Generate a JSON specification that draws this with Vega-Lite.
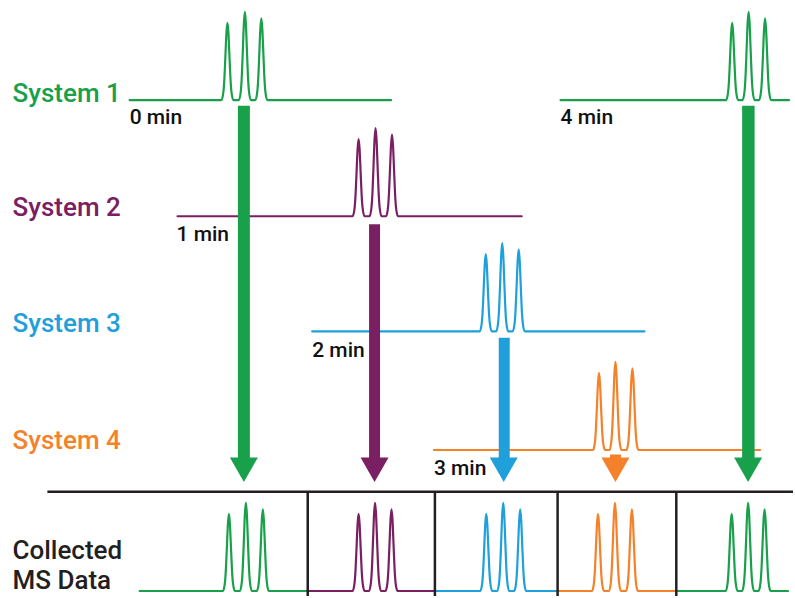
{
  "$schema": "https://vega.github.io/schema/vega-lite/v6.json",
  "width": 795,
  "height": 598,
  "padding": 0,
  "autosize": {"type": "fit", "contains": "padding"},
  "background": "white",
  "config": {"view": {"stroke": null}},
  "datasets": {
    "traces": [
      {"trace":"S1a","system":"System 1","x":130,"y":100.5},
      {"trace":"S1a","system":"System 1","x":222,"y":100.5},{"trace":"S1a","system":"System 1","x":224,"y":92},{"trace":"S1a","system":"System 1","x":225,"y":78},{"trace":"S1a","system":"System 1","x":226,"y":55.5},{"trace":"S1a","system":"System 1","x":227,"y":33.1},{"trace":"S1a","system":"System 1","x":228,"y":23},{"trace":"S1a","system":"System 1","x":229,"y":33.1},{"trace":"S1a","system":"System 1","x":230,"y":55.5},{"trace":"S1a","system":"System 1","x":231,"y":78},{"trace":"S1a","system":"System 1","x":232,"y":92},{"trace":"S1a","system":"System 1","x":234,"y":100.5},
      {"trace":"S1a","system":"System 1","x":239.5,"y":100.5},{"trace":"S1a","system":"System 1","x":241.5,"y":90.8},{"trace":"S1a","system":"System 1","x":242.5,"y":74.8},{"trace":"S1a","system":"System 1","x":243.5,"y":49.2},{"trace":"S1a","system":"System 1","x":244.5,"y":23.5},{"trace":"S1a","system":"System 1","x":245.5,"y":12},{"trace":"S1a","system":"System 1","x":246.5,"y":23.5},{"trace":"S1a","system":"System 1","x":247.5,"y":49.2},{"trace":"S1a","system":"System 1","x":248.5,"y":74.8},{"trace":"S1a","system":"System 1","x":249.5,"y":90.8},{"trace":"S1a","system":"System 1","x":251.5,"y":100.5},
      {"trace":"S1a","system":"System 1","x":256,"y":100.5},{"trace":"S1a","system":"System 1","x":258,"y":91.5},{"trace":"S1a","system":"System 1","x":259,"y":76.7},{"trace":"S1a","system":"System 1","x":260,"y":52.9},{"trace":"S1a","system":"System 1","x":261,"y":29.2},{"trace":"S1a","system":"System 1","x":262,"y":18.5},{"trace":"S1a","system":"System 1","x":263,"y":29.2},{"trace":"S1a","system":"System 1","x":264,"y":52.9},{"trace":"S1a","system":"System 1","x":265,"y":76.7},{"trace":"S1a","system":"System 1","x":266,"y":91.5},{"trace":"S1a","system":"System 1","x":268,"y":100.5},
      {"trace":"S1a","system":"System 1","x":392,"y":100.5},

      {"trace":"S1b","system":"System 1","x":562,"y":100.5},
      {"trace":"S1b","system":"System 1","x":728,"y":100.5},{"trace":"S1b","system":"System 1","x":730,"y":92},{"trace":"S1b","system":"System 1","x":731,"y":78},{"trace":"S1b","system":"System 1","x":732,"y":55.5},{"trace":"S1b","system":"System 1","x":733,"y":33.1},{"trace":"S1b","system":"System 1","x":734,"y":23},{"trace":"S1b","system":"System 1","x":735,"y":33.1},{"trace":"S1b","system":"System 1","x":736,"y":55.5},{"trace":"S1b","system":"System 1","x":737,"y":78},{"trace":"S1b","system":"System 1","x":738,"y":92},{"trace":"S1b","system":"System 1","x":740,"y":100.5},
      {"trace":"S1b","system":"System 1","x":744.5,"y":100.5},{"trace":"S1b","system":"System 1","x":746.5,"y":90.8},{"trace":"S1b","system":"System 1","x":747.5,"y":74.8},{"trace":"S1b","system":"System 1","x":748.5,"y":49.2},{"trace":"S1b","system":"System 1","x":749.5,"y":23.5},{"trace":"S1b","system":"System 1","x":750.5,"y":12},{"trace":"S1b","system":"System 1","x":751.5,"y":23.5},{"trace":"S1b","system":"System 1","x":752.5,"y":49.2},{"trace":"S1b","system":"System 1","x":753.5,"y":74.8},{"trace":"S1b","system":"System 1","x":754.5,"y":90.8},{"trace":"S1b","system":"System 1","x":756.5,"y":100.5},
      {"trace":"S1b","system":"System 1","x":761,"y":100.5},{"trace":"S1b","system":"System 1","x":763,"y":91.5},{"trace":"S1b","system":"System 1","x":764,"y":76.7},{"trace":"S1b","system":"System 1","x":765,"y":52.9},{"trace":"S1b","system":"System 1","x":766,"y":29.2},{"trace":"S1b","system":"System 1","x":767,"y":18.5},{"trace":"S1b","system":"System 1","x":768,"y":29.2},{"trace":"S1b","system":"System 1","x":769,"y":52.9},{"trace":"S1b","system":"System 1","x":770,"y":76.7},{"trace":"S1b","system":"System 1","x":771,"y":91.5},{"trace":"S1b","system":"System 1","x":773,"y":100.5},
      {"trace":"S1b","system":"System 1","x":791,"y":100.5},

      {"trace":"S2","system":"System 2","x":178,"y":217},
      {"trace":"S2","system":"System 2","x":353.5,"y":217},{"trace":"S2","system":"System 2","x":355.5,"y":208.5},{"trace":"S2","system":"System 2","x":356.5,"y":194.5},{"trace":"S2","system":"System 2","x":357.5,"y":172},{"trace":"S2","system":"System 2","x":358.5,"y":149.6},{"trace":"S2","system":"System 2","x":359.5,"y":139.5},{"trace":"S2","system":"System 2","x":360.5,"y":149.6},{"trace":"S2","system":"System 2","x":361.5,"y":172},{"trace":"S2","system":"System 2","x":362.5,"y":194.5},{"trace":"S2","system":"System 2","x":363.5,"y":208.5},{"trace":"S2","system":"System 2","x":365.5,"y":217},
      {"trace":"S2","system":"System 2","x":370.5,"y":217},{"trace":"S2","system":"System 2","x":372.5,"y":207.3},{"trace":"S2","system":"System 2","x":373.5,"y":191.3},{"trace":"S2","system":"System 2","x":374.5,"y":165.7},{"trace":"S2","system":"System 2","x":375.5,"y":140},{"trace":"S2","system":"System 2","x":376.5,"y":128.5},{"trace":"S2","system":"System 2","x":377.5,"y":140},{"trace":"S2","system":"System 2","x":378.5,"y":165.7},{"trace":"S2","system":"System 2","x":379.5,"y":191.3},{"trace":"S2","system":"System 2","x":380.5,"y":207.3},{"trace":"S2","system":"System 2","x":382.5,"y":217},
      {"trace":"S2","system":"System 2","x":387,"y":217},{"trace":"S2","system":"System 2","x":389,"y":208},{"trace":"S2","system":"System 2","x":390,"y":193.2},{"trace":"S2","system":"System 2","x":391,"y":169.4},{"trace":"S2","system":"System 2","x":392,"y":145.7},{"trace":"S2","system":"System 2","x":393,"y":135},{"trace":"S2","system":"System 2","x":394,"y":145.7},{"trace":"S2","system":"System 2","x":395,"y":169.4},{"trace":"S2","system":"System 2","x":396,"y":193.2},{"trace":"S2","system":"System 2","x":397,"y":208},{"trace":"S2","system":"System 2","x":399,"y":217},
      {"trace":"S2","system":"System 2","x":523,"y":217},

      {"trace":"S3","system":"System 3","x":313,"y":332.5},
      {"trace":"S3","system":"System 3","x":481,"y":332.5},{"trace":"S3","system":"System 3","x":483,"y":324},{"trace":"S3","system":"System 3","x":484,"y":310},{"trace":"S3","system":"System 3","x":485,"y":287.5},{"trace":"S3","system":"System 3","x":486,"y":265.1},{"trace":"S3","system":"System 3","x":487,"y":255},{"trace":"S3","system":"System 3","x":488,"y":265.1},{"trace":"S3","system":"System 3","x":489,"y":287.5},{"trace":"S3","system":"System 3","x":490,"y":310},{"trace":"S3","system":"System 3","x":491,"y":324},{"trace":"S3","system":"System 3","x":493,"y":332.5},
      {"trace":"S3","system":"System 3","x":497.5,"y":332.5},{"trace":"S3","system":"System 3","x":499.5,"y":322.8},{"trace":"S3","system":"System 3","x":500.5,"y":306.8},{"trace":"S3","system":"System 3","x":501.5,"y":281.2},{"trace":"S3","system":"System 3","x":502.5,"y":255.5},{"trace":"S3","system":"System 3","x":503.5,"y":244},{"trace":"S3","system":"System 3","x":504.5,"y":255.5},{"trace":"S3","system":"System 3","x":505.5,"y":281.2},{"trace":"S3","system":"System 3","x":506.5,"y":306.8},{"trace":"S3","system":"System 3","x":507.5,"y":322.8},{"trace":"S3","system":"System 3","x":509.5,"y":332.5},
      {"trace":"S3","system":"System 3","x":514,"y":332.5},{"trace":"S3","system":"System 3","x":516,"y":323.5},{"trace":"S3","system":"System 3","x":517,"y":308.7},{"trace":"S3","system":"System 3","x":518,"y":284.9},{"trace":"S3","system":"System 3","x":519,"y":261.2},{"trace":"S3","system":"System 3","x":520,"y":250.5},{"trace":"S3","system":"System 3","x":521,"y":261.2},{"trace":"S3","system":"System 3","x":522,"y":284.9},{"trace":"S3","system":"System 3","x":523,"y":308.7},{"trace":"S3","system":"System 3","x":524,"y":323.5},{"trace":"S3","system":"System 3","x":526,"y":332.5},
      {"trace":"S3","system":"System 3","x":646,"y":332.5},

      {"trace":"S4","system":"System 4","x":435,"y":451.5},
      {"trace":"S4","system":"System 4","x":594.5,"y":451.5},{"trace":"S4","system":"System 4","x":596.5,"y":443},{"trace":"S4","system":"System 4","x":597.5,"y":429},{"trace":"S4","system":"System 4","x":598.5,"y":406.5},{"trace":"S4","system":"System 4","x":599.5,"y":384.1},{"trace":"S4","system":"System 4","x":600.5,"y":374},{"trace":"S4","system":"System 4","x":601.5,"y":384.1},{"trace":"S4","system":"System 4","x":602.5,"y":406.5},{"trace":"S4","system":"System 4","x":603.5,"y":429},{"trace":"S4","system":"System 4","x":604.5,"y":443},{"trace":"S4","system":"System 4","x":606.5,"y":451.5},
      {"trace":"S4","system":"System 4","x":611,"y":451.5},{"trace":"S4","system":"System 4","x":613,"y":441.8},{"trace":"S4","system":"System 4","x":614,"y":425.8},{"trace":"S4","system":"System 4","x":615,"y":400.2},{"trace":"S4","system":"System 4","x":616,"y":374.5},{"trace":"S4","system":"System 4","x":617,"y":363},{"trace":"S4","system":"System 4","x":618,"y":374.5},{"trace":"S4","system":"System 4","x":619,"y":400.2},{"trace":"S4","system":"System 4","x":620,"y":425.8},{"trace":"S4","system":"System 4","x":621,"y":441.8},{"trace":"S4","system":"System 4","x":623,"y":451.5},
      {"trace":"S4","system":"System 4","x":628,"y":451.5},{"trace":"S4","system":"System 4","x":630,"y":442.5},{"trace":"S4","system":"System 4","x":631,"y":427.7},{"trace":"S4","system":"System 4","x":632,"y":403.9},{"trace":"S4","system":"System 4","x":633,"y":380.2},{"trace":"S4","system":"System 4","x":634,"y":369.5},{"trace":"S4","system":"System 4","x":635,"y":380.2},{"trace":"S4","system":"System 4","x":636,"y":403.9},{"trace":"S4","system":"System 4","x":637,"y":427.7},{"trace":"S4","system":"System 4","x":638,"y":442.5},{"trace":"S4","system":"System 4","x":640,"y":451.5},
      {"trace":"S4","system":"System 4","x":762,"y":451.5},

      {"trace":"BG1","system":"System 1","x":140,"y":593},
      {"trace":"BG1","system":"System 1","x":223.5,"y":593},{"trace":"BG1","system":"System 1","x":225.5,"y":584.5},{"trace":"BG1","system":"System 1","x":226.5,"y":570.5},{"trace":"BG1","system":"System 1","x":227.5,"y":548},{"trace":"BG1","system":"System 1","x":228.5,"y":525.6},{"trace":"BG1","system":"System 1","x":229.5,"y":515.5},{"trace":"BG1","system":"System 1","x":230.5,"y":525.6},{"trace":"BG1","system":"System 1","x":231.5,"y":548},{"trace":"BG1","system":"System 1","x":232.5,"y":570.5},{"trace":"BG1","system":"System 1","x":233.5,"y":584.5},{"trace":"BG1","system":"System 1","x":235.5,"y":593},
      {"trace":"BG1","system":"System 1","x":240.5,"y":593},{"trace":"BG1","system":"System 1","x":242.5,"y":583.3},{"trace":"BG1","system":"System 1","x":243.5,"y":567.3},{"trace":"BG1","system":"System 1","x":244.5,"y":541.7},{"trace":"BG1","system":"System 1","x":245.5,"y":516},{"trace":"BG1","system":"System 1","x":246.5,"y":504.5},{"trace":"BG1","system":"System 1","x":247.5,"y":516},{"trace":"BG1","system":"System 1","x":248.5,"y":541.7},{"trace":"BG1","system":"System 1","x":249.5,"y":567.3},{"trace":"BG1","system":"System 1","x":250.5,"y":583.3},{"trace":"BG1","system":"System 1","x":252.5,"y":593},
      {"trace":"BG1","system":"System 1","x":257.5,"y":593},{"trace":"BG1","system":"System 1","x":259.5,"y":584},{"trace":"BG1","system":"System 1","x":260.5,"y":569.2},{"trace":"BG1","system":"System 1","x":261.5,"y":545.4},{"trace":"BG1","system":"System 1","x":262.5,"y":521.7},{"trace":"BG1","system":"System 1","x":263.5,"y":511},{"trace":"BG1","system":"System 1","x":264.5,"y":521.7},{"trace":"BG1","system":"System 1","x":265.5,"y":545.4},{"trace":"BG1","system":"System 1","x":266.5,"y":569.2},{"trace":"BG1","system":"System 1","x":267.5,"y":584},{"trace":"BG1","system":"System 1","x":269.5,"y":593},
      {"trace":"BG1","system":"System 1","x":308.5,"y":593},

      {"trace":"BP","system":"System 2","x":308.5,"y":593},
      {"trace":"BP","system":"System 2","x":353.5,"y":593},{"trace":"BP","system":"System 2","x":355.5,"y":584.5},{"trace":"BP","system":"System 2","x":356.5,"y":570.5},{"trace":"BP","system":"System 2","x":357.5,"y":548},{"trace":"BP","system":"System 2","x":358.5,"y":525.6},{"trace":"BP","system":"System 2","x":359.5,"y":515.5},{"trace":"BP","system":"System 2","x":360.5,"y":525.6},{"trace":"BP","system":"System 2","x":361.5,"y":548},{"trace":"BP","system":"System 2","x":362.5,"y":570.5},{"trace":"BP","system":"System 2","x":363.5,"y":584.5},{"trace":"BP","system":"System 2","x":365.5,"y":593},
      {"trace":"BP","system":"System 2","x":370,"y":593},{"trace":"BP","system":"System 2","x":372,"y":583.3},{"trace":"BP","system":"System 2","x":373,"y":567.3},{"trace":"BP","system":"System 2","x":374,"y":541.7},{"trace":"BP","system":"System 2","x":375,"y":516},{"trace":"BP","system":"System 2","x":376,"y":504.5},{"trace":"BP","system":"System 2","x":377,"y":516},{"trace":"BP","system":"System 2","x":378,"y":541.7},{"trace":"BP","system":"System 2","x":379,"y":567.3},{"trace":"BP","system":"System 2","x":380,"y":583.3},{"trace":"BP","system":"System 2","x":382,"y":593},
      {"trace":"BP","system":"System 2","x":386.5,"y":593},{"trace":"BP","system":"System 2","x":388.5,"y":584},{"trace":"BP","system":"System 2","x":389.5,"y":569.2},{"trace":"BP","system":"System 2","x":390.5,"y":545.4},{"trace":"BP","system":"System 2","x":391.5,"y":521.7},{"trace":"BP","system":"System 2","x":392.5,"y":511},{"trace":"BP","system":"System 2","x":393.5,"y":521.7},{"trace":"BP","system":"System 2","x":394.5,"y":545.4},{"trace":"BP","system":"System 2","x":395.5,"y":569.2},{"trace":"BP","system":"System 2","x":396.5,"y":584},{"trace":"BP","system":"System 2","x":398.5,"y":593},
      {"trace":"BP","system":"System 2","x":436,"y":593},

      {"trace":"BB","system":"System 3","x":436,"y":593},
      {"trace":"BB","system":"System 3","x":481.5,"y":593},{"trace":"BB","system":"System 3","x":483.5,"y":584.5},{"trace":"BB","system":"System 3","x":484.5,"y":570.5},{"trace":"BB","system":"System 3","x":485.5,"y":548},{"trace":"BB","system":"System 3","x":486.5,"y":525.6},{"trace":"BB","system":"System 3","x":487.5,"y":515.5},{"trace":"BB","system":"System 3","x":488.5,"y":525.6},{"trace":"BB","system":"System 3","x":489.5,"y":548},{"trace":"BB","system":"System 3","x":490.5,"y":570.5},{"trace":"BB","system":"System 3","x":491.5,"y":584.5},{"trace":"BB","system":"System 3","x":493.5,"y":593},
      {"trace":"BB","system":"System 3","x":498.5,"y":593},{"trace":"BB","system":"System 3","x":500.5,"y":583.3},{"trace":"BB","system":"System 3","x":501.5,"y":567.3},{"trace":"BB","system":"System 3","x":502.5,"y":541.7},{"trace":"BB","system":"System 3","x":503.5,"y":516},{"trace":"BB","system":"System 3","x":504.5,"y":504.5},{"trace":"BB","system":"System 3","x":505.5,"y":516},{"trace":"BB","system":"System 3","x":506.5,"y":541.7},{"trace":"BB","system":"System 3","x":507.5,"y":567.3},{"trace":"BB","system":"System 3","x":508.5,"y":583.3},{"trace":"BB","system":"System 3","x":510.5,"y":593},
      {"trace":"BB","system":"System 3","x":515.5,"y":593},{"trace":"BB","system":"System 3","x":517.5,"y":584},{"trace":"BB","system":"System 3","x":518.5,"y":569.2},{"trace":"BB","system":"System 3","x":519.5,"y":545.4},{"trace":"BB","system":"System 3","x":520.5,"y":521.7},{"trace":"BB","system":"System 3","x":521.5,"y":511},{"trace":"BB","system":"System 3","x":522.5,"y":521.7},{"trace":"BB","system":"System 3","x":523.5,"y":545.4},{"trace":"BB","system":"System 3","x":524.5,"y":569.2},{"trace":"BB","system":"System 3","x":525.5,"y":584},{"trace":"BB","system":"System 3","x":527.5,"y":593},
      {"trace":"BB","system":"System 3","x":559,"y":593},

      {"trace":"BO","system":"System 4","x":559,"y":593},
      {"trace":"BO","system":"System 4","x":593.5,"y":593},{"trace":"BO","system":"System 4","x":595.5,"y":584.5},{"trace":"BO","system":"System 4","x":596.5,"y":570.5},{"trace":"BO","system":"System 4","x":597.5,"y":548},{"trace":"BO","system":"System 4","x":598.5,"y":525.6},{"trace":"BO","system":"System 4","x":599.5,"y":515.5},{"trace":"BO","system":"System 4","x":600.5,"y":525.6},{"trace":"BO","system":"System 4","x":601.5,"y":548},{"trace":"BO","system":"System 4","x":602.5,"y":570.5},{"trace":"BO","system":"System 4","x":603.5,"y":584.5},{"trace":"BO","system":"System 4","x":605.5,"y":593},
      {"trace":"BO","system":"System 4","x":610.5,"y":593},{"trace":"BO","system":"System 4","x":612.5,"y":583.3},{"trace":"BO","system":"System 4","x":613.5,"y":567.3},{"trace":"BO","system":"System 4","x":614.5,"y":541.7},{"trace":"BO","system":"System 4","x":615.5,"y":516},{"trace":"BO","system":"System 4","x":616.5,"y":504.5},{"trace":"BO","system":"System 4","x":617.5,"y":516},{"trace":"BO","system":"System 4","x":618.5,"y":541.7},{"trace":"BO","system":"System 4","x":619.5,"y":567.3},{"trace":"BO","system":"System 4","x":620.5,"y":583.3},{"trace":"BO","system":"System 4","x":622.5,"y":593},
      {"trace":"BO","system":"System 4","x":627.5,"y":593},{"trace":"BO","system":"System 4","x":629.5,"y":584},{"trace":"BO","system":"System 4","x":630.5,"y":569.2},{"trace":"BO","system":"System 4","x":631.5,"y":545.4},{"trace":"BO","system":"System 4","x":632.5,"y":521.7},{"trace":"BO","system":"System 4","x":633.5,"y":511},{"trace":"BO","system":"System 4","x":634.5,"y":521.7},{"trace":"BO","system":"System 4","x":635.5,"y":545.4},{"trace":"BO","system":"System 4","x":636.5,"y":569.2},{"trace":"BO","system":"System 4","x":637.5,"y":584},{"trace":"BO","system":"System 4","x":639.5,"y":593},
      {"trace":"BO","system":"System 4","x":678,"y":593},

      {"trace":"BG2","system":"System 1","x":678,"y":593},
      {"trace":"BG2","system":"System 1","x":727.5,"y":593},{"trace":"BG2","system":"System 1","x":729.5,"y":584.5},{"trace":"BG2","system":"System 1","x":730.5,"y":570.5},{"trace":"BG2","system":"System 1","x":731.5,"y":548},{"trace":"BG2","system":"System 1","x":732.5,"y":525.6},{"trace":"BG2","system":"System 1","x":733.5,"y":515.5},{"trace":"BG2","system":"System 1","x":734.5,"y":525.6},{"trace":"BG2","system":"System 1","x":735.5,"y":548},{"trace":"BG2","system":"System 1","x":736.5,"y":570.5},{"trace":"BG2","system":"System 1","x":737.5,"y":584.5},{"trace":"BG2","system":"System 1","x":739.5,"y":593},
      {"trace":"BG2","system":"System 1","x":744,"y":593},{"trace":"BG2","system":"System 1","x":746,"y":583.3},{"trace":"BG2","system":"System 1","x":747,"y":567.3},{"trace":"BG2","system":"System 1","x":748,"y":541.7},{"trace":"BG2","system":"System 1","x":749,"y":516},{"trace":"BG2","system":"System 1","x":750,"y":504.5},{"trace":"BG2","system":"System 1","x":751,"y":516},{"trace":"BG2","system":"System 1","x":752,"y":541.7},{"trace":"BG2","system":"System 1","x":753,"y":567.3},{"trace":"BG2","system":"System 1","x":754,"y":583.3},{"trace":"BG2","system":"System 1","x":756,"y":593},
      {"trace":"BG2","system":"System 1","x":760.5,"y":593},{"trace":"BG2","system":"System 1","x":762.5,"y":584},{"trace":"BG2","system":"System 1","x":763.5,"y":569.2},{"trace":"BG2","system":"System 1","x":764.5,"y":545.4},{"trace":"BG2","system":"System 1","x":765.5,"y":521.7},{"trace":"BG2","system":"System 1","x":766.5,"y":511},{"trace":"BG2","system":"System 1","x":767.5,"y":521.7},{"trace":"BG2","system":"System 1","x":768.5,"y":545.4},{"trace":"BG2","system":"System 1","x":769.5,"y":569.2},{"trace":"BG2","system":"System 1","x":770.5,"y":584},{"trace":"BG2","system":"System 1","x":772.5,"y":593},
      {"trace":"BG2","system":"System 1","x":790,"y":593}
    ],
    "shafts": [
      {"system":"System 1","x":238.5,"x2":250.5,"y":106,"y2":461},
      {"system":"System 1","x":744,"x2":756.5,"y":106,"y2":461},
      {"system":"System 2","x":370,"x2":381,"y":225,"y2":461},
      {"system":"System 3","x":500,"x2":511,"y":339,"y2":461},
      {"system":"System 4","x":611.5,"x2":622.5,"y":456,"y2":461}
    ],
    "heads": [
      {"system":"System 1","x":244.5,"y":471.3},
      {"system":"System 2","x":375.5,"y":471.3},
      {"system":"System 3","x":505,"y":471.3},
      {"system":"System 4","x":617,"y":471.3},
      {"system":"System 1","x":750,"y":471.3}
    ],
    "frame": [
      {"x":47.5,"y":493.3,"x2":795,"y2":493.3},
      {"x":308.5,"y":493.3,"x2":308.5,"y2":598},
      {"x":436,"y":493.3,"x2":436,"y2":598},
      {"x":559,"y":493.3,"x2":559,"y2":598},
      {"x":678,"y":493.3,"x2":678,"y2":598}
    ],
    "labels": [
      {"system":"System 1","text":"System 1","x":12.5,"y":102},
      {"system":"System 2","text":"System 2","x":12.5,"y":216.7},
      {"system":"System 3","text":"System 3","x":12.5,"y":333.3},
      {"system":"System 4","text":"System 4","x":12.5,"y":450.7}
    ],
    "times": [
      {"text":"0 min","x":130,"y":124.5},
      {"text":"1 min","x":177,"y":241.5},
      {"text":"2 min","x":313,"y":358},
      {"text":"3 min","x":435,"y":476.5},
      {"text":"4 min","x":562,"y":124.5}
    ],
    "ms": [
      {"text":"Collected","x":12.5,"y":561},
      {"text":"MS Data","x":12.5,"y":591}
    ]
  },
  "layer": [
    {
      "data": {"name": "traces"},
      "mark": {"type": "line", "interpolate": "monotone", "strokeWidth": 2.2, "strokeJoin": "round", "strokeCap": "round"},
      "encoding": {
        "x": {"field": "x", "type": "quantitative", "scale": {"domain": [0, 795], "nice": false, "zero": false}, "axis": null},
        "y": {"field": "y", "type": "quantitative", "scale": {"domain": [0, 598], "nice": false, "zero": false, "reverse": true}, "axis": null},
        "detail": {"field": "trace"},
        "color": {"field": "system", "type": "nominal", "scale": {"domain": ["System 1", "System 2", "System 3", "System 4"], "range": ["#18A04A", "#7A2062", "#1FA0DA", "#F5822A"]}, "legend": null}
      }
    },
    {
      "data": {"name": "frame"},
      "mark": {"type": "rule", "stroke": "#231F20", "strokeWidth": 2.5},
      "encoding": {
        "x": {"field": "x", "type": "quantitative", "scale": {"domain": [0, 795], "nice": false, "zero": false}, "axis": null},
        "x2": {"field": "x2"},
        "y": {"field": "y", "type": "quantitative", "scale": {"domain": [0, 598], "nice": false, "zero": false, "reverse": true}, "axis": null},
        "y2": {"field": "y2"}
      }
    },
    {
      "data": {"name": "shafts"},
      "mark": {"type": "rect"},
      "encoding": {
        "x": {"field": "x", "type": "quantitative", "scale": {"domain": [0, 795], "nice": false, "zero": false}, "axis": null},
        "x2": {"field": "x2"},
        "y": {"field": "y", "type": "quantitative", "scale": {"domain": [0, 598], "nice": false, "zero": false, "reverse": true}, "axis": null},
        "y2": {"field": "y2"},
        "color": {"field": "system", "type": "nominal", "legend": null}
      }
    },
    {
      "data": {"name": "heads"},
      "mark": {"type": "point", "shape": "M-1,-0.875L1,-0.875L0,0.875Z", "size": 784, "filled": true, "opacity": 1, "strokeWidth": 0},
      "encoding": {
        "x": {"field": "x", "type": "quantitative", "scale": {"domain": [0, 795], "nice": false, "zero": false}, "axis": null},
        "y": {"field": "y", "type": "quantitative", "scale": {"domain": [0, 598], "nice": false, "zero": false, "reverse": true}, "axis": null},
        "color": {"field": "system", "type": "nominal", "legend": null}
      }
    },
    {
      "data": {"name": "labels"},
      "mark": {"type": "text", "align": "left", "baseline": "alphabetic", "font": "Roboto", "fontSize": 26, "fontWeight": 500},
      "encoding": {
        "x": {"field": "x", "type": "quantitative", "scale": {"domain": [0, 795], "nice": false, "zero": false}, "axis": null},
        "y": {"field": "y", "type": "quantitative", "scale": {"domain": [0, 598], "nice": false, "zero": false, "reverse": true}, "axis": null},
        "text": {"field": "text"},
        "color": {"field": "system", "type": "nominal", "legend": null}
      }
    },
    {
      "data": {"name": "times"},
      "mark": {"type": "text", "align": "left", "baseline": "alphabetic", "font": "Roboto", "fontSize": 21, "fontWeight": 500, "color": "#111111"},
      "encoding": {
        "x": {"field": "x", "type": "quantitative", "scale": {"domain": [0, 795], "nice": false, "zero": false}, "axis": null},
        "y": {"field": "y", "type": "quantitative", "scale": {"domain": [0, 598], "nice": false, "zero": false, "reverse": true}, "axis": null},
        "text": {"field": "text"}
      }
    },
    {
      "data": {"name": "ms"},
      "mark": {"type": "text", "align": "left", "baseline": "alphabetic", "font": "Roboto", "fontSize": 26, "fontWeight": 500, "color": "#231F20"},
      "encoding": {
        "x": {"field": "x", "type": "quantitative", "scale": {"domain": [0, 795], "nice": false, "zero": false}, "axis": null},
        "y": {"field": "y", "type": "quantitative", "scale": {"domain": [0, 598], "nice": false, "zero": false, "reverse": true}, "axis": null},
        "text": {"field": "text"}
      }
    }
  ]
}
